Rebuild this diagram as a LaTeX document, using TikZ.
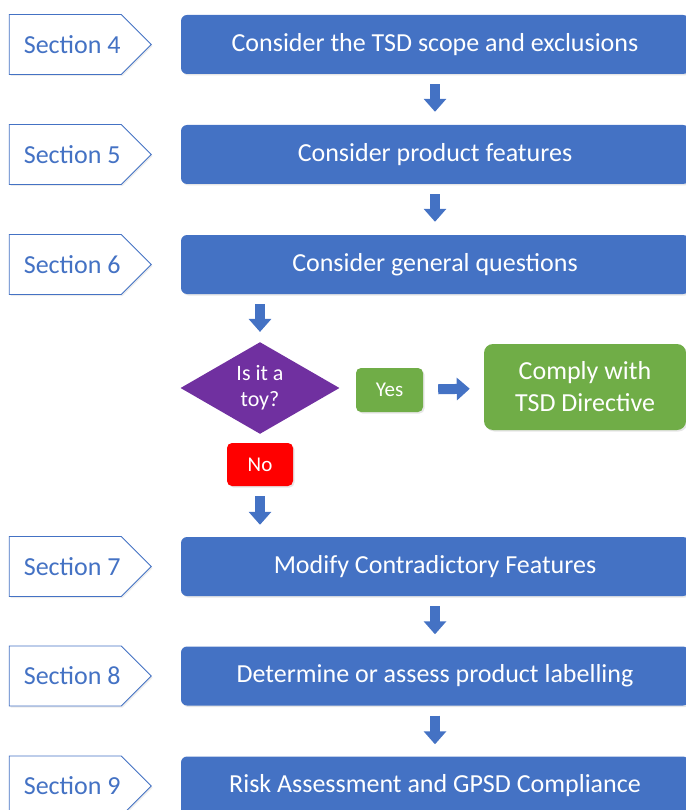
\documentclass[tikz,border=0pt]{standalone}
\usepackage{fontspec}
\setmainfont{Carlito}
\usetikzlibrary{positioning,shapes.geometric,shapes.symbols,arrows.meta,shadows}

\definecolor{stepblue}{HTML}{4472C4}
\definecolor{yesgreen}{HTML}{70AD47}
\definecolor{toypurple}{HTML}{7030A0}
\definecolor{nored}{HTML}{FF0000}

\begin{document}
\begin{tikzpicture}[x=1pt,y=-1pt,
    stage/.style={draw=none, fill=stepblue, text=white, rounded corners=6pt,
      minimum width=508pt, minimum height=59pt,
      font=\fontsize{26}{30}\selectfont,
      drop shadow={opacity=0.2, shadow xshift=1.5pt, shadow yshift=-1.5pt}},
    tag/.style={draw=stepblue, line width=0.8pt, fill=white, text=stepblue,
      signal, signal to=east, signal pointer angle=90,
      minimum width=142pt, minimum height=60pt, inner xsep=0pt,
      execute at begin node={\kern14pt},
      font=\fontsize{26}{30}\selectfont,
      drop shadow={opacity=0.15, shadow xshift=1.5pt, shadow yshift=-1.5pt}},
    answer/.style={rounded corners=5pt, text=white, minimum height=44pt,
      minimum width=67pt, font=\fontsize{21}{25}\selectfont,
      drop shadow={opacity=0.2, shadow xshift=1.5pt, shadow yshift=-1.5pt}},
    flowarrow/.style={draw=stepblue, line width=10pt,
      -{Triangle[width=22pt,length=13pt]}}]
  \useasboundingbox (0,0) rectangle (685,810);

  % Nodes
  \node[stage] (scope) at (435,44.5) {Consider the TSD scope and exclusions};
  \node[stage] (features) at (435,154.5) {Consider product features};
  \node[stage] (general) at (435,264.5) {Consider general questions};
  \node[stage] (modify) at (435,566.5) {Modify Contradictory Features};
  \node[stage] (labelling) at (435,676) {Determine or assess product labelling};
  \node[stage] (risk) at (435,786) {Risk Assessment and GPSD Compliance};

  \node[tag, left=29pt of scope] (sec4) {Section 4};
  \node[tag, left=29pt of features] (sec5) {Section 5};
  \node[tag, left=29pt of general] (sec6) {Section 6};
  \node[tag, left=29pt of modify] (sec7) {Section 7};
  \node[tag, left=29pt of labelling] (sec8) {Section 8};
  \node[tag, left=29pt of risk] (sec9) {Section 9};

  \node[diamond, fill=toypurple, text=white, inner sep=0pt, align=center,
    minimum width=159pt, minimum height=90pt,
    font=\fontsize{22}{26}\selectfont] (toy) at (260,388) {Is it a\\toy?};
  \node[answer, fill=yesgreen] (yes) at (389.5,390) {Yes};
  \node[answer, fill=nored, minimum width=66pt, minimum height=43pt] (no) at (260,464.5) {No};
  \node[answer, fill=yesgreen, rounded corners=9pt, align=center,
    minimum width=202pt, minimum height=86pt,
    font=\fontsize{26}{32}\selectfont] (comply) at (585,387) {Comply with\\TSD Directive};

  % Arrows
  \draw[flowarrow, shorten <=10pt, shorten >=13pt] (scope) -- (features);
  \draw[flowarrow, shorten <=10pt, shorten >=13pt] (features) -- (general);
  \draw[flowarrow, shorten <=10pt, shorten >=10pt] (general.south -| toy) -- (toy.north);
  \draw[flowarrow, shorten <=15pt, shorten >=14pt] (yes) -- (comply);
  \draw[flowarrow, shorten <=10pt, shorten >=12pt] (no) -- (modify.north -| no);
  \draw[flowarrow, shorten <=10pt, shorten >=12pt] (modify) -- (labelling);
  \draw[flowarrow, shorten <=10pt, shorten >=12pt] (labelling) -- (risk);
\end{tikzpicture}
\end{document}
